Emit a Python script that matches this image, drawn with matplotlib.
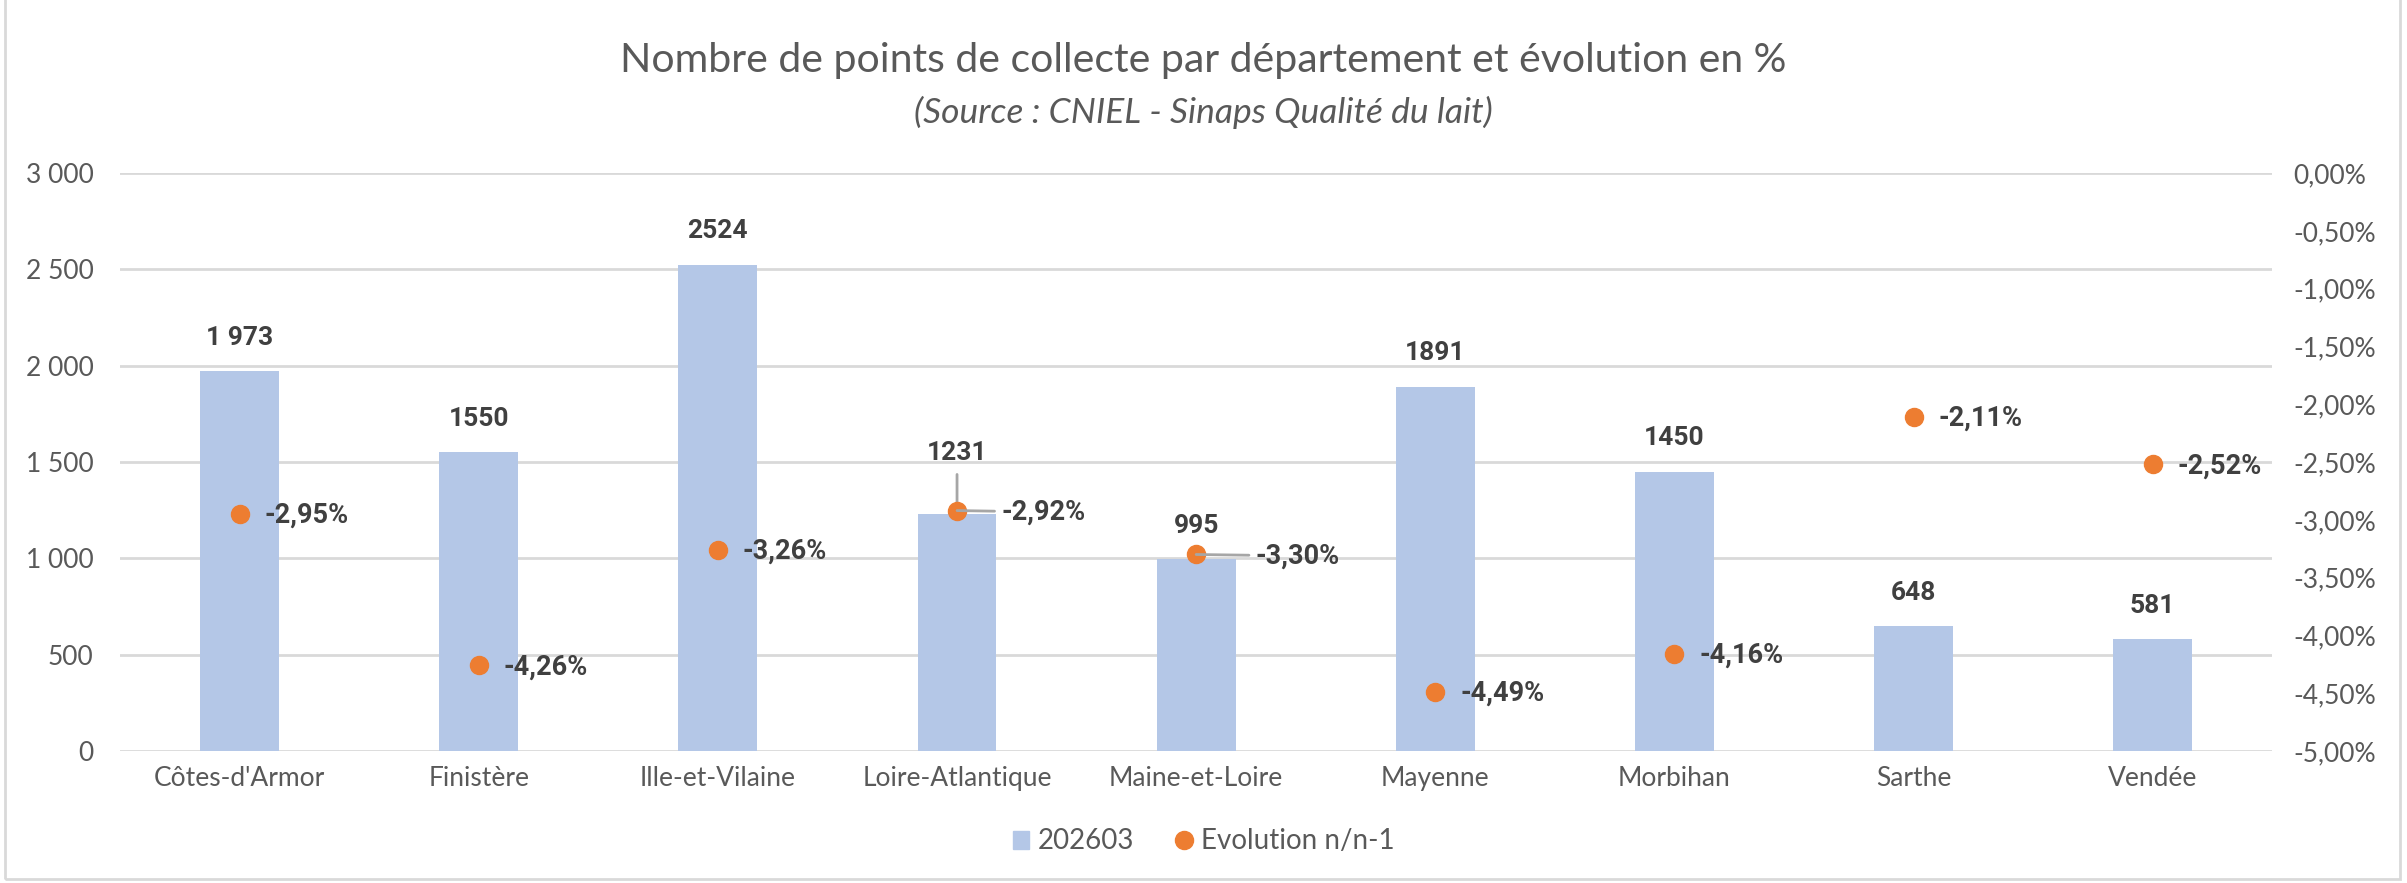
import numpy as np
import matplotlib
matplotlib.use('Agg')
import matplotlib.pyplot as plt
from matplotlib.ticker import FuncFormatter, MultipleLocator
from matplotlib.patches import Rectangle
from matplotlib.lines import Line2D

# Data
departements = ["Côtes-d'Armor", "Finistère", "Ille-et-Vilaine", "Loire-Atlantique",
                "Maine-et-Loire", "Mayenne", "Morbihan", "Sarthe", "Vendée"]
points_collecte = [1973, 1550, 2524, 1231, 995, 1891, 1450, 648, 581]
labels_collecte = ["1 973", "1550", "2524", "1231", "995", "1891", "1450", "648", "581"]
evolution = [-2.95, -4.26, -3.26, -2.92, -3.30, -4.49, -4.16, -2.11, -2.52]
labels_evolution = ["-2,95%", "-4,26%", "-3,26%", "-2,92%", "-3,30%", "-4,49%", "-4,16%", "-2,11%", "-2,52%"]

BAR_COLOR = '#B4C7E7'
DOT_COLOR = '#ED7D31'
GRID_COLOR = '#D9D9D9'
TICK_COLOR = '#595959'
LABEL_COLOR = '#404040'

plt.rcParams['font.family'] = ['Lato', 'DejaVu Sans']
BOLD_FONT = ['Roboto', 'DejaVu Sans']


def fmt_left(v, pos):
    return f"{int(v):,}".replace(",", " ")


def fmt_right(v, pos):
    s = f"{v:.2f}%".replace(".", ",")
    if s.startswith("-0,00"):
        s = s[1:]
    return s


def main():
    fig = plt.figure(figsize=(24.07, 8.83), dpi=100)
    ax = fig.add_axes([0.0499, 0.1495, 0.8941, 0.6545])
    ax2 = ax.twinx()

    x = np.arange(len(departements))
    ax.bar(x, points_collecte, width=0.33, color=BAR_COLOR, zorder=2)
    ax.set_xlim(-0.5, len(departements) - 0.5)
    ax.set_ylim(0, 3000)
    ax.yaxis.set_major_locator(MultipleLocator(500))
    ax.yaxis.set_major_formatter(FuncFormatter(fmt_left))
    ax.grid(axis='y', color=GRID_COLOR, linewidth=2, zorder=0)
    ax.set_axisbelow(True)
    ax.set_xticks(x)
    ax.set_xticklabels(departements)

    ax2.plot(x, evolution, 'o', color=DOT_COLOR, markersize=13, zorder=3)
    ax2.set_ylim(-5, 0)
    ax2.yaxis.set_major_locator(MultipleLocator(0.5))
    ax2.yaxis.set_major_formatter(FuncFormatter(fmt_right))

    for a in (ax, ax2):
        for s in a.spines.values():
            s.set_visible(False)
        a.tick_params(length=0, labelsize=19, colors=TICK_COLOR)
    ax.tick_params(axis='y', pad=19)
    ax.tick_params(axis='x', pad=11)
    ax2.tick_params(axis='y', pad=15)

    # bar value labels
    for i, (v, lab) in enumerate(zip(points_collecte, labels_collecte)):
        if lab == "1231":
            ax.annotate(lab, xy=(i, v), xytext=(0, 44), textcoords='offset points',
                        ha='center', va='center', fontsize=19, fontweight='bold',
                        family=BOLD_FONT, color=LABEL_COLOR, zorder=5,
                        arrowprops=dict(arrowstyle='-', color='#A6A6A6', lw=2,
                                        shrinkA=5, shrinkB=0))
        else:
            ax.annotate(lab, xy=(i, v), xytext=(0, 24), textcoords='offset points',
                        ha='center', va='center', fontsize=19, fontweight='bold',
                        family=BOLD_FONT, color=LABEL_COLOR, zorder=5)

    # evolution labels
    lead = {"-2,92%": 32, "-3,30%": 43}
    for i, (v, lab) in enumerate(zip(evolution, labels_evolution)):
        if lab in lead:
            ax2.annotate(lab, xy=(i, v), xytext=(lead[lab], -1), textcoords='offset points',
                         ha='left', va='center', fontsize=19.5, fontweight='bold',
                         family=BOLD_FONT, color=LABEL_COLOR,
                         arrowprops=dict(arrowstyle='-', color='#A6A6A6', lw=2,
                                         shrinkA=3, shrinkB=0))
        else:
            ax2.annotate(lab, xy=(i, v), xytext=(18, -1), textcoords='offset points',
                         ha='left', va='center', fontsize=19.5, fontweight='bold',
                         family=BOLD_FONT, color=LABEL_COLOR)

    fig.text(0.5, 0.931, "Nombre de points de collecte par département et évolution en %",
             ha='center', va='center', fontsize=29.5, color=TICK_COLOR)
    fig.text(0.5, 0.873, "(Source : CNIEL - Sinaps Qualité du lait)",
             ha='center', va='center', fontsize=25.5, style='italic', color=TICK_COLOR)

    handles = [Rectangle((0, 0), 1, 1, color=BAR_COLOR),
               Line2D([], [], marker='o', linestyle='none', color=DOT_COLOR, markersize=13)]
    fig.legend(handles, ["202603", "Evolution n/n-1"], loc='center',
               bbox_to_anchor=(0.5, 0.047), ncol=2, frameon=False, fontsize=20,
               labelcolor=TICK_COLOR, handlelength=0.6, handleheight=0.6,
               handletextpad=0.3, columnspacing=1.5)

    # chart border
    fig.patches.append(Rectangle((0.002, 0.005), 0.995, 1.2, transform=fig.transFigure,
                                 fill=False, edgecolor=GRID_COLOR, linewidth=2))

    fig.savefig("out.png", dpi=100)


if __name__ == "__main__":
    main()
